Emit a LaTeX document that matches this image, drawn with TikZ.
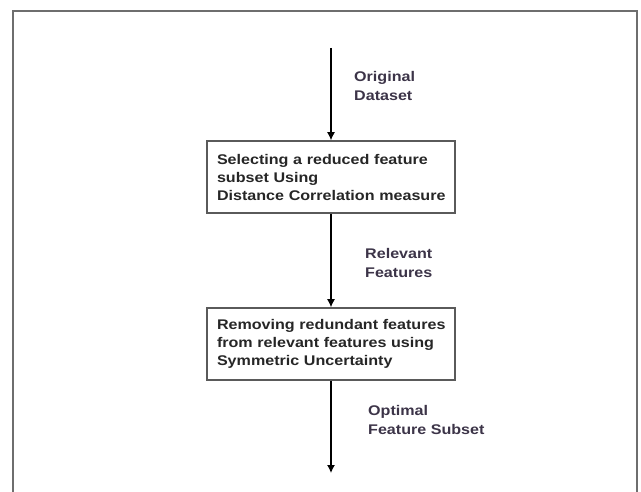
\documentclass[tikz,border=0pt]{standalone}
\usepackage{fontspec}
\setmainfont{Liberation Sans}[FakeStretch=1.15]
\usetikzlibrary{positioning,arrows.meta}
\definecolor{framegray}{HTML}{6E6E6E}
\definecolor{boxgray}{HTML}{5A5A5A}
\definecolor{lbltext}{HTML}{3C3448}

\tikzset{
  stage/.style={draw=boxgray, line width=1.6pt, minimum width=248pt,
    minimum height=72pt, text width=240pt, align=left, inner xsep=4pt, inner ysep=0pt,
    font=\bfseries\fontsize{14}{18}\selectfont, text=black!85},
  flow/.style={-{Latex[length=8pt,width=8pt]}, line width=1.2pt},
  lbl/.style={anchor=west, align=left, inner sep=0pt,
    font=\bfseries\fontsize{14}{19}\selectfont, text=lbltext}
}

\begin{document}
\begin{tikzpicture}[x=1pt,y=-1pt]
\useasboundingbox (0,0) rectangle (641,492);

% outer frame, open at the bottom
\draw[line width=2.5pt, framegray] (13,500) -- (13,11) -- (637,11) -- (637,500);

\coordinate (in) at (331,48);
\node[stage] (select) at (331,177) {\hspace*{6pt}Selecting a reduced feature\\\hspace*{6pt}subset Using\\\hspace*{6pt}Distance Correlation measure};
\node[stage] (remove) at (331,344) {\hspace*{6pt}Removing redundant features\\\hspace*{6pt}from relevant features using\\\hspace*{6pt}Symmetric Uncertainty};
\coordinate (out) at (331,473);

\draw[flow] (in) -- (select.north);
\draw[flow] (select.south) -- (remove.north);
\draw[flow] (remove.south) -- (out);

\node[lbl] (orig) at (354,86) {Original\\Dataset};
\node[lbl] (relev) at (365,263) {Relevant\\Features};
\node[lbl] (optim) at (368,420) {Optimal\\Feature Subset};
\end{tikzpicture}
\end{document}
